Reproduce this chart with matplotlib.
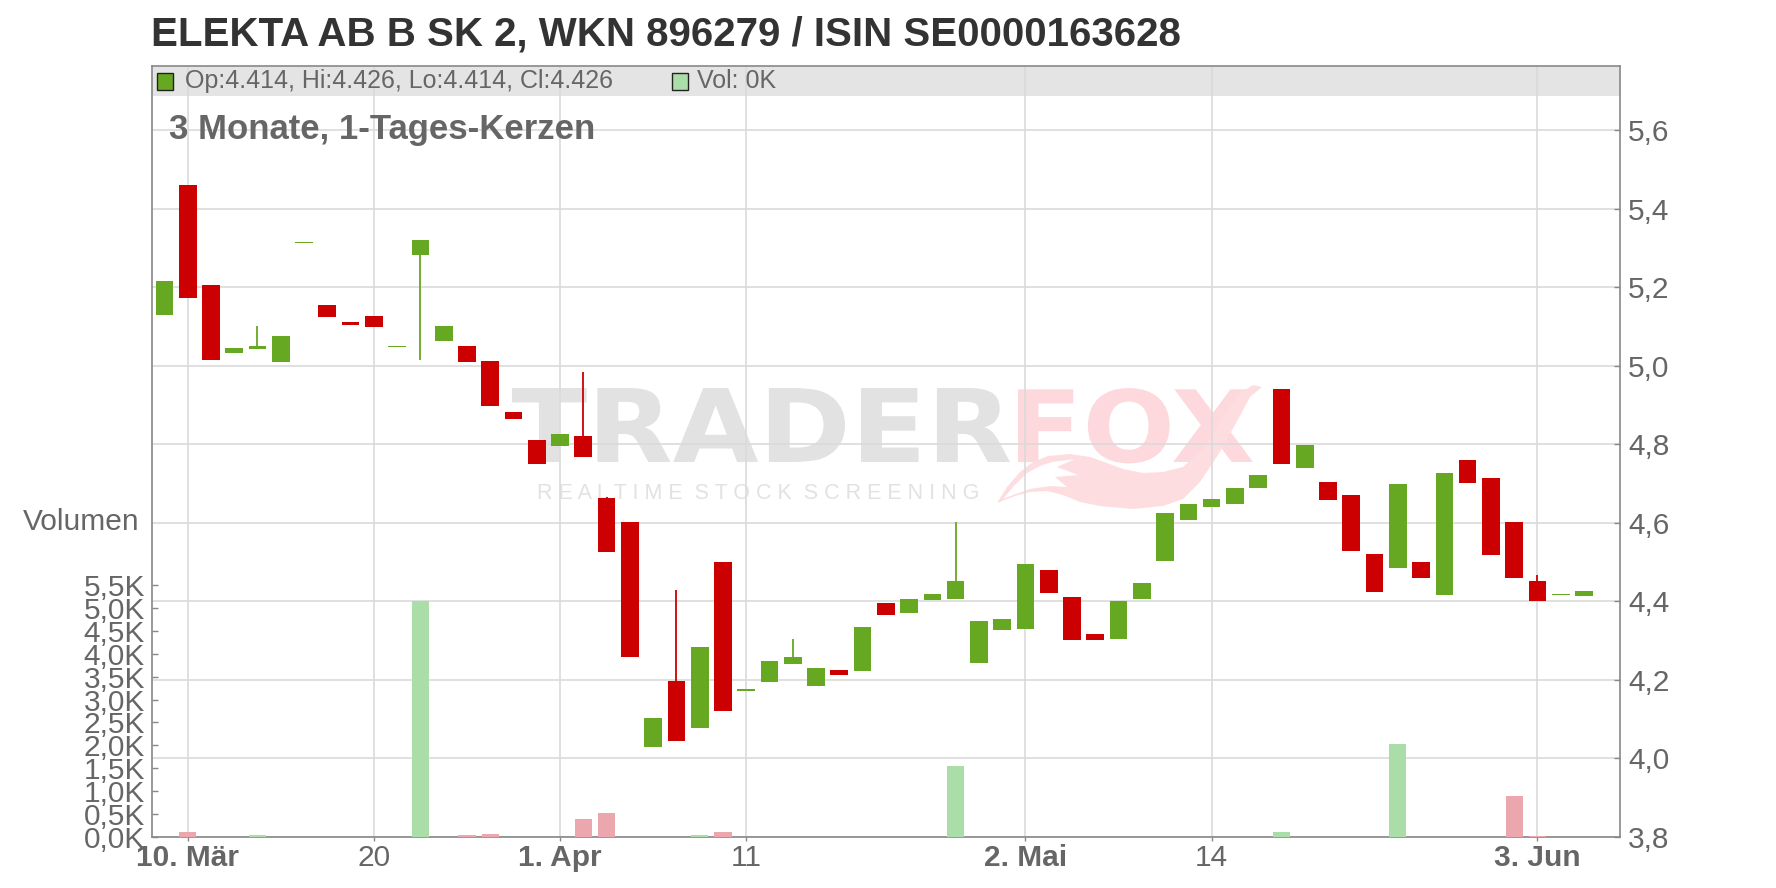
import numpy as np
import matplotlib
matplotlib.use("Agg")
import matplotlib.pyplot as plt
from matplotlib.patches import Rectangle, PathPatch, Polygon
from matplotlib.textpath import TextPath
from matplotlib.font_manager import FontProperties
from matplotlib.transforms import Affine2D

# ---------------- data ----------------
opens = [5.129, 5.459, 5.205, 5.033, 5.043, 5.009, 5.314, 5.154, 5.111, 5.126,
         5.049, 5.281, 5.063, 5.050, 5.012, 4.882, 4.811, 4.796, 4.822, 4.662,
         4.601, 4.030, 4.198, 4.077, 4.499, 4.175, 4.194, 4.240, 4.184, 4.226,
         4.222, 4.397, 4.370, 4.403, 4.406, 4.242, 4.327, 4.329, 4.481, 4.410,
         4.318, 4.304, 4.406, 4.503, 4.607, 4.640, 4.648, 4.688, 4.940, 4.739,
         4.703, 4.672, 4.520, 4.485, 4.499, 4.416, 4.761, 4.713, 4.601, 4.453,
         4.418, 4.414]
closes = [5.215, 5.173, 5.014, 5.045, 5.050, 5.075, 5.314, 5.125, 5.104, 5.099,
          5.049, 5.319, 5.101, 5.009, 4.897, 4.864, 4.750, 4.826, 4.767, 4.525,
          4.258, 4.104, 4.045, 4.285, 4.120, 4.175, 4.249, 4.259, 4.231, 4.212,
          4.336, 4.365, 4.407, 4.420, 4.453, 4.349, 4.354, 4.496, 4.421, 4.301,
          4.301, 4.400, 4.446, 4.626, 4.647, 4.660, 4.688, 4.723, 4.750, 4.797,
          4.658, 4.528, 4.424, 4.700, 4.459, 4.726, 4.701, 4.518, 4.459, 4.401,
          4.418, 4.426]
highs = [5.215, 5.459, 5.205, 5.045, 5.101, 5.075, 5.314, 5.154, 5.111, 5.126,
         5.049, 5.319, 5.101, 5.050, 5.012, 4.882, 4.811, 4.826, 4.983, 4.667,
         4.601, 4.104, 4.428, 4.285, 4.499, 4.175, 4.249, 4.303, 4.231, 4.226,
         4.336, 4.397, 4.407, 4.420, 4.601, 4.349, 4.354, 4.496, 4.481, 4.410,
         4.318, 4.400, 4.446, 4.626, 4.647, 4.660, 4.688, 4.723, 4.940, 4.797,
         4.703, 4.672, 4.520, 4.700, 4.499, 4.726, 4.761, 4.713, 4.601, 4.466,
         4.418, 4.426]
lows = [5.129, 5.173, 5.014, 5.033, 5.043, 5.009, 5.314, 5.125, 5.104, 5.099,
        5.049, 5.014, 5.063, 5.009, 4.897, 4.864, 4.750, 4.796, 4.767, 4.525,
        4.258, 4.030, 4.045, 4.077, 4.120, 4.175, 4.194, 4.240, 4.184, 4.212,
        4.222, 4.365, 4.370, 4.403, 4.406, 4.242, 4.327, 4.329, 4.421, 4.301,
        4.301, 4.304, 4.406, 4.503, 4.607, 4.640, 4.648, 4.688, 4.750, 4.739,
        4.658, 4.528, 4.424, 4.485, 4.459, 4.416, 4.701, 4.518, 4.459, 4.401,
        4.418, 4.414]
# volume in thousands
volumes_k = [0, 0.11, 0, 0, 0.05, 0, 0, 0, 0, 0,
             0, 5.15, 0, 0.05, 0.065, 0, 0, 0, 0.40, 0.52,
             0, 0, 0, 0.04, 0.11, 0, 0, 0, 0, 0,
             0, 0, 0, 0, 1.55, 0, 0, 0, 0, 0,
             0, 0, 0, 0, 0, 0, 0, 0, 0.11, 0,
             0, 0, 0, 2.03, 0, 0, 0, 0, 0.89, 0.03,
             0, 0]
date_tick_idx = [1, 9, 17, 25, 37, 45, 59]
date_tick_labels = ["10. Mär", "20", "1. Apr", "11", "2. Mai", "14", "3. Jun"]
date_tick_bold = [True, False, True, False, True, False, True]
price_ticks = [3.8, 4.0, 4.2, 4.4, 4.6, 4.8, 5.0, 5.2, 5.4, 5.6]
vol_ticks = [0.0, 0.5, 1.0, 1.5, 2.0, 2.5, 3.0, 3.5, 4.0, 4.5, 5.0, 5.5]

title = "ELEKTA AB B SK 2, WKN 896279 / ISIN SE0000163628"
subtitle = "3 Monate, 1-Tages-Kerzen"
header_ohlc = "Op:4.414, Hi:4.426, Lo:4.414, Cl:4.426"
header_vol = "Vol: 0K"

# ---------------- style ----------------
W, H = 1776, 888
FONT = "Liberation Sans"
GREEN = "#66a822"
RED = "#cc0000"
VGREEN = "#aadda8"
VRED = "#eca6ae"
GRID = "#dadada"
TXT = "#666666"
AXC = "#888888"

plt.rcParams["font.family"] = [FONT, "DejaVu Sans"]

fig = plt.figure(figsize=(W / 100, H / 100), dpi=100)
fig.patch.set_facecolor("white")


def fx(px):
    return px / W


def fy(py):
    return 1 - py / H


ax_l, ax_r, ax_t, ax_b = 152.3, 1620.3, 65.7, 837.0
ax = fig.add_axes([fx(ax_l), fy(ax_b), (ax_r - ax_l) / W, (ax_b - ax_t) / H])
ax.set_facecolor("none")
ax.set_zorder(1)

n = len(opens)
x = np.arange(n)
o = np.array(opens)
c = np.array(closes)
hi = np.array(highs)
lo = np.array(lows)
up = c >= o
col = np.where(up, GREEN, RED)

ax.set_xlim(-0.52, 62.56)
ax.set_ylim(3.8, 5.764)

# header bar
ax.add_patch(Rectangle((0, 1 - 30 / (ax_b - ax_t)), 1, 30 / (ax_b - ax_t),
                       transform=ax.transAxes, facecolor="#e4e4e4",
                       edgecolor="none", zorder=0))

# volume axis (left)
axv = ax.twinx()
axv.set_zorder(1.5)
axv.set_facecolor("none")
axv.set_ylim(0, 16.84)

# price axis on the right
ax.yaxis.tick_right()
ax.yaxis.set_label_position("right")
ax.set_yticks(price_ticks)
ax.set_yticklabels([f"{t:.1f}".replace(".", ",") for t in price_ticks])
ax.set_xticks(date_tick_idx)
ax.set_xticklabels(date_tick_labels)
for lab, b in zip(ax.get_xticklabels(), date_tick_bold):
    lab.set_fontweight("bold" if b else "normal")
ax.grid(True, color=GRID, linewidth=1.2, zorder=0.5)
ax.set_axisbelow(True)
ax.tick_params(axis="y", which="both", left=False, labelleft=False,
               right=True, labelright=True, direction="in", length=4,
               width=1, color=AXC, labelsize=21.5, labelcolor=TXT, pad=5.5)
ax.tick_params(axis="x", direction="out", length=3, width=1, color=AXC,
               labelsize=21.5, labelcolor=TXT, pad=2)
for sp in ax.spines.values():
    sp.set_color(AXC)
    sp.set_linewidth(1.2)

# wicks and bodies
ax.vlines(x, lo, hi, colors=col, linewidth=1.3, zorder=2)
body_h = np.maximum(np.abs(c - o), 0.004)
body_b = np.where(np.abs(c - o) < 0.004, o - 0.002, np.minimum(o, c))
ax.bar(x, body_h, bottom=body_b, width=0.76, color=col, linewidth=0, zorder=3)

# volume bars
axv.yaxis.tick_left()
axv.set_yticks(vol_ticks)
axv.set_yticklabels([f"{t:.1f}".replace(".", ",") + "K" for t in vol_ticks])
axv.tick_params(axis="y", which="both", right=False, labelright=False,
                left=True, labelleft=True, direction="in", length=4, width=1,
                color=AXC, labelsize=21.5, labelcolor=TXT, pad=5.3)
for sp in axv.spines.values():
    sp.set_visible(False)
v = np.array(volumes_k)
prev_c = np.concatenate([[c[0]], c[:-1]])
vcol = np.where(c >= prev_c, VGREEN, VRED)
axv.bar(x, v, width=0.74, color=vcol, linewidth=0, zorder=2)

# ---------------- watermark (behind the chart) ----------------
wm_font = FontProperties(family="DejaVu Sans", weight="bold")


def word_patch(txt, x0, x1, ytop, ybase, color):
    tp = TextPath((0, 0), txt, size=100, prop=wm_font)
    ext = tp.get_extents()
    sx = (x1 - x0) / ext.width
    sy = (ybase - ytop) / ext.y1
    tr = Affine2D().translate(-ext.x0, 0).scale(sx, sy).translate(x0, H - ybase)
    p = PathPatch(tr.transform_path(tp), facecolor=color, edgecolor="none",
                  transform=None, zorder=0.3)
    fig.patches.append(p)


word_patch("TRADER", 512, 1010, 388, 462, "#e2e2e2")
word_patch("FOX", 1018, 1253, 388, 462, "#fdd9dd")


def px_poly(pts, color, z):
    fig.patches.append(Polygon([(fx(a), fy(b)) for a, b in pts], closed=True,
                               transform=fig.transFigure, facecolor=color,
                               edgecolor="none", zorder=z))


tail_outer = [(997, 503), (1007, 487), (1020, 472), (1033, 462), (1048, 456),
              (1070, 454), (1090, 457), (1107, 463), (1123, 469), (1143, 473),
              (1163, 472), (1183, 467), (1205, 447), (1222, 418), (1240, 393),
              (1253, 385), (1262, 387), (1250, 397), (1235, 425), (1218, 455),
              (1200, 482), (1183, 499), (1163, 506), (1133, 509), (1100, 506),
              (1080, 502), (1063, 495), (1047, 491), (1030, 492), (1015, 496)]
tail_hollow = [(1003, 499), (1013, 487), (1027, 473), (1040, 466), (1052, 462),
               (1075, 459), (1057, 467), (1078, 475), (1055, 477), (1067, 487),
               (1050, 486), (1030, 489), (1013, 495)]
px_poly(tail_outer, "#fddde0", 0.3)
px_poly(tail_hollow, "white", 0.31)

tag = "R E A L T I M E  S T O C K  S C R E E N I N G"
fig.text(fx(758), fy(493), tag, fontsize=15.5, color="#e2e2e2",
         ha="center", va="center", zorder=0.3)

# ---------------- texts ----------------
fig.text(fx(151), fy(34), title, fontsize=29, fontweight="bold",
         color="#333333", ha="left", va="center")
fig.text(fx(169), fy(129), subtitle, fontsize=25, fontweight="bold",
         color=TXT, ha="left", va="center", zorder=3)
fig.text(fx(139), fy(522), "Volumen", fontsize=21.5, color=TXT,
         ha="right", va="center")

# header legend
fig.patches.append(Rectangle((fx(157), fy(90)), 16 / W, 17 / H,
                             transform=fig.transFigure, facecolor=GREEN,
                             edgecolor="#222222", linewidth=1, zorder=5))
fig.text(fx(185), fy(81), header_ohlc, fontsize=18, color=TXT,
         ha="left", va="center", zorder=5)
fig.patches.append(Rectangle((fx(672), fy(90)), 16 / W, 17 / H,
                             transform=fig.transFigure, facecolor=VGREEN,
                             edgecolor="#222222", linewidth=1, zorder=5))
fig.text(fx(697), fy(81), header_vol, fontsize=18, color=TXT,
         ha="left", va="center", zorder=5)

fig.savefig("out.png", dpi=100)
